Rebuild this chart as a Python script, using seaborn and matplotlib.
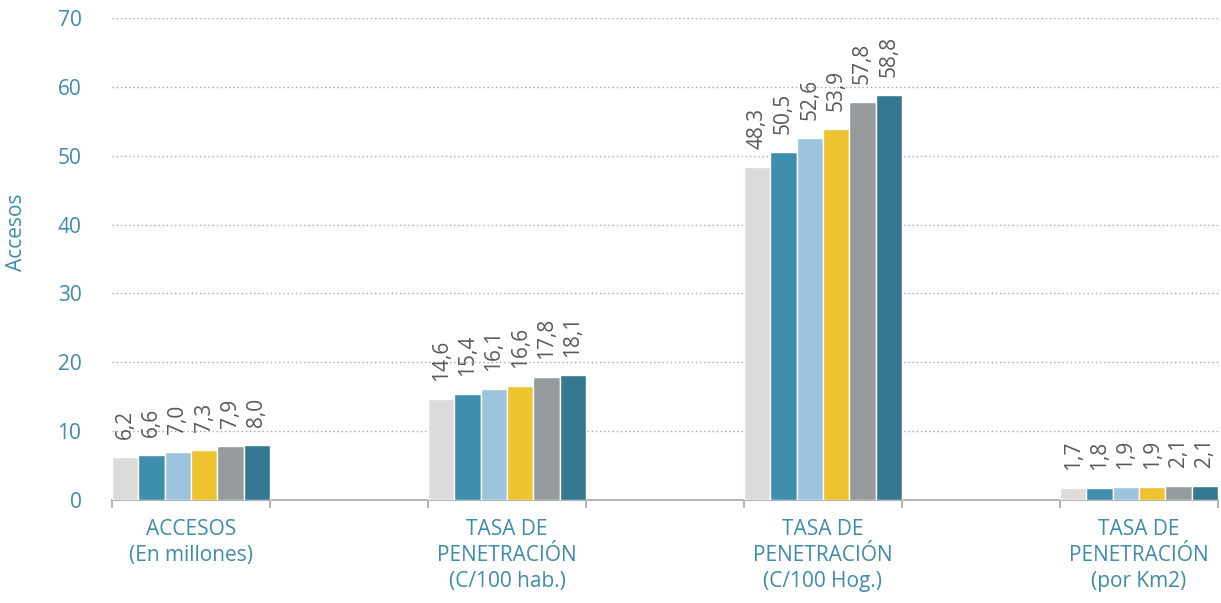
import matplotlib
matplotlib.use('Agg')
import matplotlib.pyplot as plt
import seaborn as sns
import pandas as pd
from matplotlib.ticker import FixedLocator, NullFormatter

# data
categories = ['ACCESOS\n(En millones)',
              'TASA DE\nPENETRACIÓN\n(C/100 hab.)',
              'TASA DE\nPENETRACIÓN\n(C/100 Hog.)',
              'TASA DE\nPENETRACIÓN\n(por Km2)']
series = ['2015', '2016', '2017', '2018', '2019', '2020']
accesos = [6.2, 6.6, 7.0, 7.3, 7.9, 8.0]
tasa_hab = [14.6, 15.4, 16.1, 16.6, 17.8, 18.1]
tasa_hog = [48.3, 50.5, 52.6, 53.9, 57.8, 58.8]
tasa_km2 = [1.7, 1.8, 1.9, 1.9, 2.1, 2.1]
y_ticks = [0, 10, 20, 30, 40, 50, 60, 70]

colors = ['#DDDCDA', '#3F8EAE', '#9CC5DD', '#EEC330', '#959A9D', '#367891']
blue = '#3E8BAA'
text_grey = '#595959'

rows = []
for cat, vals in zip(categories, [accesos, tasa_hab, tasa_hog, tasa_km2]):
    for s, v in zip(series, vals):
        rows.append({'cat': cat, 'serie': s, 'valor': v})
df = pd.DataFrame(rows)

# empty slots between the groups, like the original spreadsheet chart
order = [categories[0], ' ', categories[1], '  ', categories[2], '   ', categories[3]]

plt.rcParams['font.family'] = ['Open Sans', 'DejaVu Sans']
fig = plt.figure(figsize=(12.21, 6.03), dpi=100)
ax = fig.add_axes([0.0917, 0.1708, 0.9058, 0.7992])

sns.barplot(data=df, x='cat', y='valor', hue='serie', order=order,
            hue_order=series, palette=colors, saturation=1, width=1, gap=0,
            edgecolor='white', linewidth=1, errorbar=None, ax=ax, zorder=3)

for container in ax.containers:
    labels = [f'{v:.1f}'.replace('.', ',') for v in container.datavalues]
    ax.bar_label(container, labels=labels, rotation=90, padding=13,
                 color=text_grey, fontsize=15)

ax.set_xlim(-0.5, 6.5)
ax.set_ylim(0, 70)
ax.set_yticks(y_ticks)
ax.tick_params(axis='y', length=0, labelcolor=blue, labelsize=15, pad=22)
for y in y_ticks[1:]:
    ax.axhline(y, color='#A6A6A6', linestyle=(0, (1, 2)), linewidth=1, zorder=1)

ax.set_xticks(range(len(order)))
ax.set_xticklabels(order, color=blue, fontsize=15, linespacing=1.3)
ax.tick_params(axis='x', which='major', length=0, pad=14)
ax.xaxis.set_minor_locator(FixedLocator([i - 0.5 for i in range(len(order) + 1)]))
ax.xaxis.set_minor_formatter(NullFormatter())
ax.tick_params(axis='x', which='minor', length=6, color='#A6A6A6', width=1.2)

ax.set_xlabel('')
ax.set_ylabel('Accesos', color=blue, fontsize=15, va='center')
ax.yaxis.set_label_coords(-0.0859, 0.556)

for side in ['top', 'right', 'left']:
    ax.spines[side].set_visible(False)
ax.spines['bottom'].set_color('#A6A6A6')
ax.spines['bottom'].set_linewidth(1.2)

leg = ax.get_legend()
if leg is not None:
    leg.remove()

fig.savefig('out.png', dpi=100)
